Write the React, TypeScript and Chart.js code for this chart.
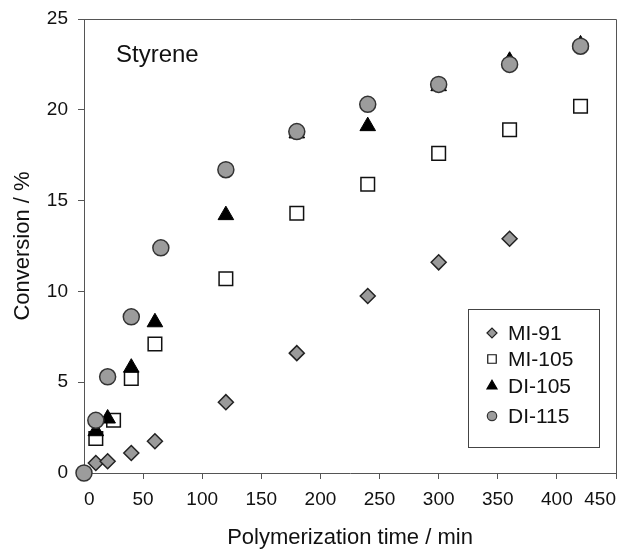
import React, { useEffect, useRef } from "react";
import { Chart, registerables } from "chart.js";
import { drawPoint } from "chart.js/helpers";

Chart.register(...registerables);

const xTicks = [0, 50, 100, 150, 200, 250, 300, 350, 400, 450];
const yTicks = [0, 5, 10, 15, 20, 25];

const mi91X = [10, 20, 40, 60, 120, 180, 240, 300, 360];
const mi91Y = [0.55, 0.65, 1.1, 1.75, 3.9, 6.6, 9.75, 11.6, 12.9];

const mi105X = [10, 25, 40, 60, 120, 180, 240, 300, 360, 420];
const mi105Y = [1.9, 2.9, 5.2, 7.1, 10.7, 14.3, 15.9, 17.6, 18.9, 20.2];

const di105X = [10, 20, 40, 60, 120, 180, 240, 300, 360, 420];
const di105Y = [2.3, 3.0, 5.8, 8.3, 14.2, 18.7, 19.1, 21.3, 22.7, 23.6];

const di115X = [0, 10, 20, 40, 65, 120, 180, 240, 300, 360, 420];
const di115Y = [0, 2.9, 5.3, 8.6, 12.4, 16.7, 18.8, 20.3, 21.4, 22.5, 23.5];

const seriesNames = ["MI-91", "MI-105", "DI-105", "DI-115"];
const panelLabel = "Styrene";
const xTitle = "Polymerization time / min";
const yTitle = "Conversion / %";

const FONT = "'Liberation Sans', Arial, Helvetica, sans-serif";

const toPts = (xs: number[], ys: number[]) => xs.map((x, i) => ({ x, y: ys[i] }));

const styles = [
  { pointStyle: "rectRot", radius: 7.5, fill: "#9a9a9a", stroke: "#222", lw: 1.5, legendR: 5 },
  { pointStyle: "rect", radius: 9.6, fill: "#ffffff", stroke: "#111", lw: 1.5, legendR: 6 },
  { pointStyle: "triangle", radius: 9, fill: "#000000", stroke: "#000", lw: 1, legendR: 5.8 },
  { pointStyle: "circle", radius: 8, fill: "#9c9c9c", stroke: "#333", lw: 1.5, legendR: 4.7 },
];

export default function App() {
  const ref = useRef<HTMLCanvasElement | null>(null);

  useEffect(() => {
    const canvas = ref.current;
    if (!canvas) return;
    const dataSets = [
      toPts(mi91X, mi91Y),
      toPts(mi105X, mi105Y),
      toPts(di105X, di105Y),
      toPts(di115X, di115Y),
    ];

    const framePlugin = {
      id: "frame",
      beforeDraw(chart: any) {
        const c = chart.ctx;
        c.save();
        c.fillStyle = "#ffffff";
        c.fillRect(0, 0, chart.width, chart.height);
        c.restore();
      },
      beforeDatasetsDraw(chart: any) {
        const { ctx: c, chartArea: a } = chart;
        c.save();
        c.strokeStyle = "#555";
        c.lineWidth = 1;
        c.beginPath();
        c.moveTo(a.left, a.top + 0.5);
        c.lineTo(a.right + 0.5, a.top + 0.5);
        c.lineTo(a.right + 0.5, a.bottom);
        c.stroke();
        c.restore();
      },
      afterDraw(chart: any) {
        const c = chart.ctx;
        c.save();
        c.fillStyle = "#111";
        c.font = `24px ${FONT}`;
        c.textBaseline = "alphabetic";
        c.textAlign = "left";
        c.fillText(panelLabel, 116, 62);
        c.fillStyle = "#fff";
        c.fillRect(468.5, 309.5, 131, 138);
        c.strokeStyle = "#444";
        c.lineWidth = 1;
        c.strokeRect(468.5, 309.5, 131, 138);
        const ys = [333, 359, 386, 416];
        seriesNames.forEach((name, i) => {
          const s = styles[i];
          c.fillStyle = s.fill;
          c.strokeStyle = s.stroke;
          c.lineWidth = 1.2;
          drawPoint(c, { pointStyle: s.pointStyle, radius: s.legendR, rotation: 0, borderWidth: 1.2 } as any, 492, ys[i]);
          c.fillStyle = "#111";
          c.font = `21px ${FONT}`;
          c.textBaseline = "middle";
          c.textAlign = "left";
          c.fillText(name, 508, ys[i] + 1);
        });
        c.restore();
      },
    };

    const chart = new Chart(canvas, {
      type: "scatter",
      data: {
        datasets: dataSets.map((d, i) => ({
          label: seriesNames[i],
          data: d,
          order: 4 - i,
          clip: false as any,
          pointStyle: styles[i].pointStyle as any,
          pointRadius: styles[i].radius,
          pointBackgroundColor: styles[i].fill,
          pointBorderColor: styles[i].stroke,
          pointBorderWidth: styles[i].lw,
          showLine: false,
        })),
      },
      options: {
        responsive: false,
        animation: false,
        layout: { padding: { top: 19, right: 12, left: 0, bottom: 0 } },
        plugins: {
          legend: { display: false },
          tooltip: { enabled: false },
        },
        scales: {
          x: {
            type: "linear",
            min: 0,
            max: 450,
            afterBuildTicks: (s: any) => {
              s.ticks = xTicks.map((v) => ({ value: v }));
            },
            afterFit: (s: any) => {
              s.height = 78;
              s.paddingLeft = 0;
              s.paddingRight = 0;
            },
            ticks: {
              align: "inner",
              maxRotation: 0,
              autoSkip: false,
              padding: 9,
              color: "#111",
              font: { family: FONT, size: 19 },
            },
            grid: { display: true, drawOnChartArea: false, drawTicks: true, tickLength: 6, color: "#555" },
            border: { display: true, color: "#555" },
            title: {
              display: true,
              text: xTitle,
              color: "#111",
              font: { family: FONT, size: 22 },
              padding: { top: 0, bottom: 0 },
            },
          },
          y: {
            type: "linear",
            min: 0,
            max: 25,
            afterBuildTicks: (s: any) => {
              s.ticks = yTicks.map((v) => ({ value: v }));
            },
            afterFit: (s: any) => {
              s.width = 84;
              s.paddingTop = 0;
              s.paddingBottom = 0;
            },
            ticks: {
              padding: 10,
              color: "#111",
              font: { family: FONT, size: 19 },
            },
            grid: { display: true, drawOnChartArea: false, drawTicks: true, tickLength: 6, color: "#555" },
            border: { display: true, color: "#555" },
            title: {
              display: true,
              text: yTitle,
              color: "#111",
              font: { family: FONT, size: 22 },
              padding: { top: 10, bottom: 0 },
            },
          },
        },
      },
      plugins: [framePlugin],
    });
    return () => chart.destroy();
  }, []);

  return (
    <div style={{ position: "absolute", left: 0, top: 0, width: 628, height: 551 }}>
      <canvas ref={ref} width={628} height={551} style={{ display: "block" }} />
    </div>
  );
}
